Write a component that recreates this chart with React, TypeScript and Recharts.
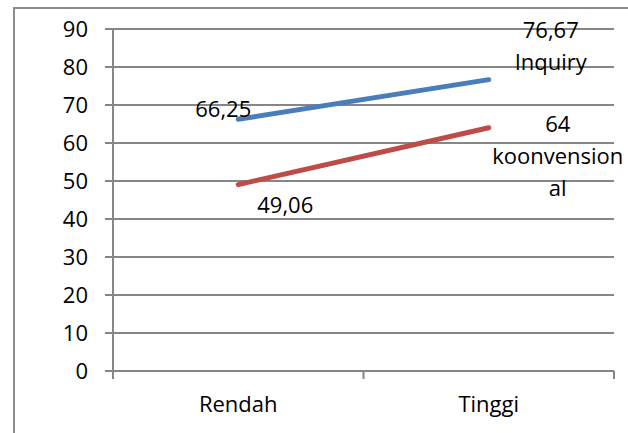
import { LineChart, Line, XAxis, YAxis, CartesianGrid } from "recharts";

// categories and series
const levels = ["Rendah", "Tinggi"];
const inquiry = [66.25, 76.67];
const konvensional = [49.06, 64];
const inquiryName = ["Inquiry"];
const konvensionalName = ["koonvension", "al"];
const yTicks = [0, 10, 20, 30, 40, 50, 60, 70, 80, 90];

const data = levels.map((level, i) => ({
  level,
  inquiry: inquiry[i],
  konvensional: konvensional[i],
}));

const FONT = "'Open Sans', Lato, sans-serif";
const GRID = "#868686";

const fmt = (v: number) => String(v).replace(".", ",");

// where each label sits relative to its point: [dx, dy of first baseline]
const inquiryOffsets = [
  [-15, -2],
  [62, -42],
];
const konvOffsets = [
  [47, 28],
  [69, 4],
];

function makeLabel(offsets: number[][], name: string[]) {
  return (props: any) => {
    const { x, y, index, value } = props;
    const [dx, dy] = offsets[index];
    const lines = index === 0 ? [fmt(value)] : [fmt(value), ...name];
    return (
      <text
        key={index}
        x={x + dx}
        y={y + dy}
        textAnchor="middle"
        fontFamily={FONT}
        fontSize={22}
        fill="#000"
      >
        {lines.map((l, i) => (
          <tspan key={i} x={x + dx} dy={i === 0 ? 0 : 32}>
            {l}
          </tspan>
        ))}
      </text>
    );
  };
}

function XTick(props: any) {
  const { x, y, payload, index, visibleTicksCount } = props;
  const half = payload.offset || 125.25;
  return (
    <g>
      <line x1={x - half} y1={y - 8} x2={x - half} y2={y} stroke={GRID} strokeWidth={2} />
      {index === visibleTicksCount - 1 && (
        <line x1={x + half} y1={y - 8} x2={x + half} y2={y} stroke={GRID} strokeWidth={2} />
      )}
      <text x={x} y={y + 33} textAnchor="middle" fontFamily={FONT} fontSize={22} fill="#000">
        {payload.value}
      </text>
    </g>
  );
}

export default function App() {
  return (
    <div style={{ position: "relative", width: 628, height: 433, overflow: "hidden", background: "#fff" }}>
      <style>{"body{margin:0}"}</style>
      <div
        style={{
          position: "absolute",
          left: 13,
          top: 7,
          width: 700,
          height: 500,
          border: "2px solid #8c8c8c",
        }}
      />
      <div style={{ position: "absolute", left: 0, top: 0 }}>
        <LineChart
          width={628}
          height={433}
          data={data}
          margin={{ top: 29, right: 14, bottom: 0, left: 0 }}
        >
          <CartesianGrid vertical={false} stroke={GRID} strokeWidth={2} />
          <XAxis
            dataKey="level"
            scale="band"
            height={62}
            stroke={GRID}
            strokeWidth={2}
            tickLine={false}
            tick={<XTick />}
            interval={0}
          />
          <YAxis
            width={113}
            domain={[0, 90]}
            ticks={yTicks}
            interval={0}
            stroke={GRID}
            strokeWidth={2}
            tickSize={8}
            tickMargin={17}
            tick={{ fill: "#000", fontFamily: FONT, fontSize: 22 }}
          />
          <Line
            dataKey="inquiry"
            stroke="#4A7EBB"
            strokeWidth={5}
            strokeLinecap="round"
            dot={false}
            isAnimationActive={false}
            label={makeLabel(inquiryOffsets, inquiryName)}
          />
          <Line
            dataKey="konvensional"
            stroke="#BE4B48"
            strokeWidth={5}
            strokeLinecap="round"
            dot={false}
            isAnimationActive={false}
            label={makeLabel(konvOffsets, konvensionalName)}
          />
        </LineChart>
      </div>
    </div>
  );
}
